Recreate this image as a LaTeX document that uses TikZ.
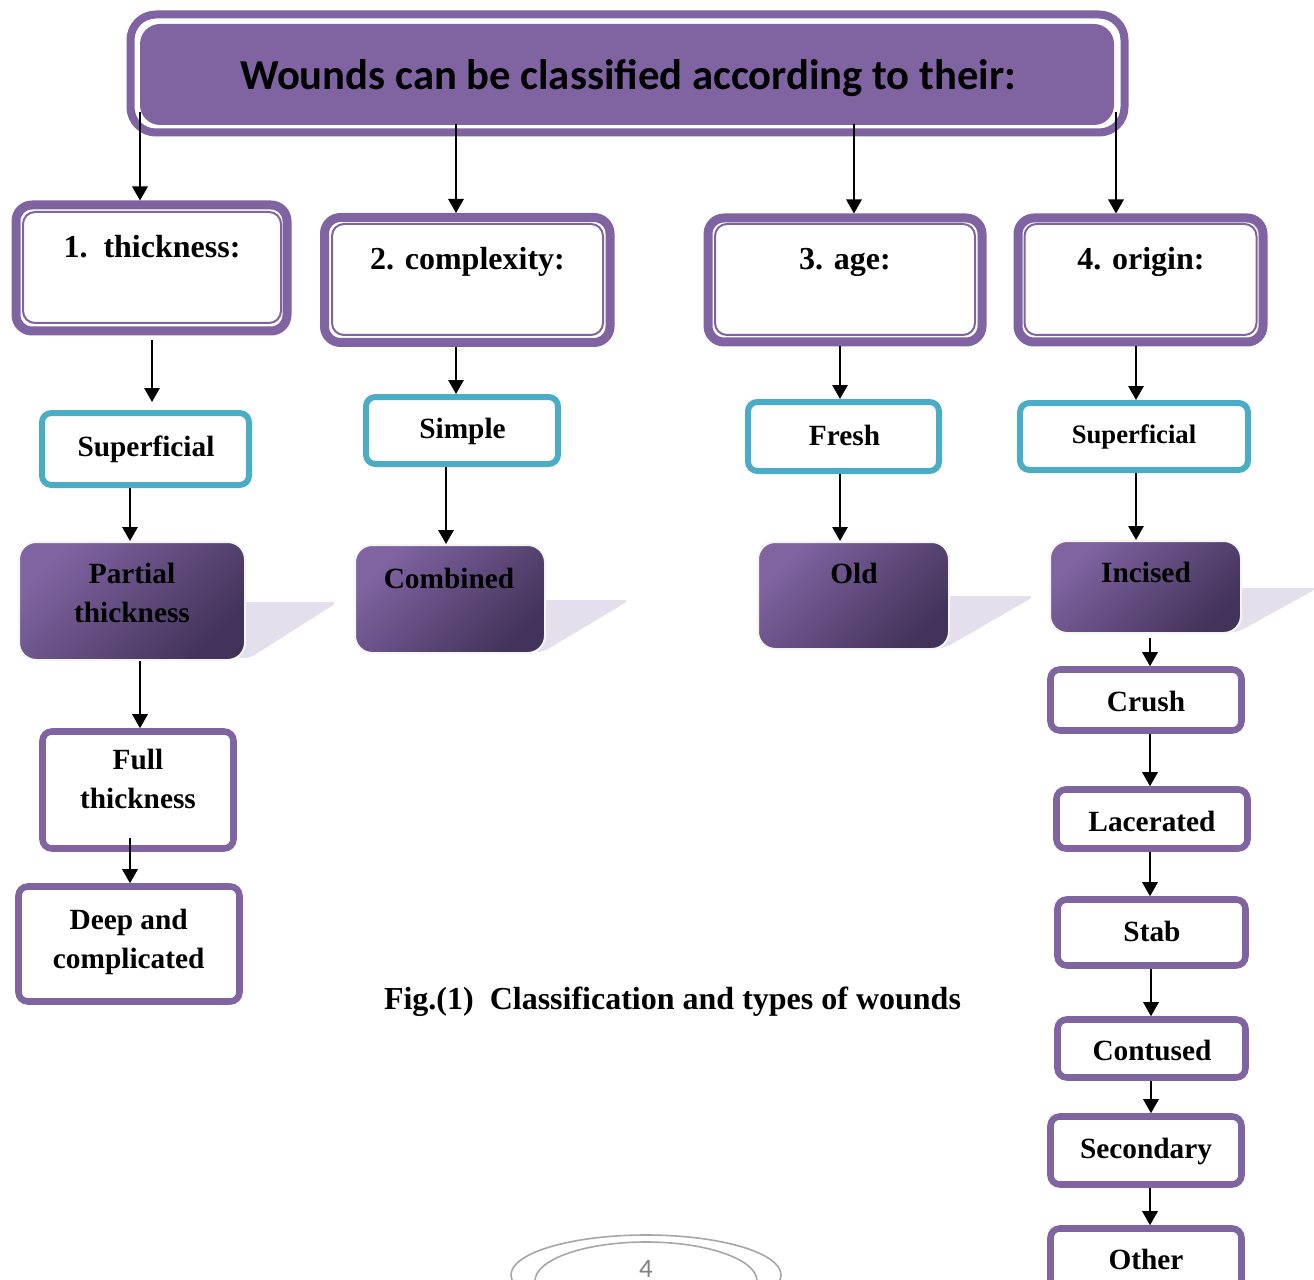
\documentclass[tikz,border=0pt]{standalone}
\usepackage{fontspec}
\setmainfont{Liberation Serif}
\newfontfamily\calibrifont{Carlito}
\usetikzlibrary{arrows.meta}
\definecolor{purp}{HTML}{8064A2}
\definecolor{blu}{HTML}{4BACC6}
\definecolor{gl}{HTML}{8064A2}
\definecolor{gd}{HTML}{43335A}
\definecolor{shad}{HTML}{E4DFEC}
\definecolor{pgray}{HTML}{A6A6A6}
\begin{document}
\begin{tikzpicture}[x=0.75pt,y=-0.75pt,
  sz/.style 2 args={minimum width=#1*0.75pt, minimum height=#2*0.75pt, inner sep=0pt},
  catbox/.style={draw=purp, line width=6.75pt, rounded corners=12pt, fill=white},
  catin/.style={draw=purp, line width=1.5pt, rounded corners=9pt},
  bluebox/.style={draw=blu, line width=4.5pt, rounded corners=7pt, fill=white},
  pbox/.style={draw=purp, line width=4.9pt, rounded corners=7pt, fill=white},
  gbox/.style={draw=white!92!gray, line width=1.5pt, rounded corners=13pt, top color=gl, bottom color=gd, shading angle=45},
  shadowpoly/.style={fill=shad, rounded corners=5pt},
  lbl/.style={font=\bfseries\fontsize{22}{29}\selectfont, anchor=base, align=center, inner sep=0pt},
  cattxt/.style={font=\bfseries\fontsize{24}{29}\selectfont, anchor=base, inner sep=0pt},
  arr/.style={line width=1.5pt, -{Triangle[length=10.5pt,width=11.5pt]}},
]
\useasboundingbox (0,0) rectangle (1314,1280);
\clip (0,0) rectangle (1314,1280);

% title box
\node[sz={994}{118}, draw=purp, line width=6pt, rounded corners=19pt] (topring) at (627.5,73.5) {};
\node[sz={974}{101}, fill=purp, rounded corners=15pt] (top) at (627,74.5) {};
\node[font=\calibrifont\bfseries\fontsize{32}{38}\selectfont, anchor=base, inner sep=0pt] (title) at (628,90) {Wounds can be classified according to their:};

% category boxes
\node[catbox, sz={271}{126}] (c1) at (151.5,268) {};
\node[catin, sz={258}{111}] (c1i) at (152,267.5) {};
\node[cattxt] (c1t) at (152,258) {1.\ \ thickness:};
\node[catbox, sz={285.5}{125}] (c2) at (467.25,280) {};
\node[catin, sz={271}{111}] (c2i) at (467.5,279.5) {};
\node[cattxt] (c2t) at (467.5,270) {2. complexity:};
\node[catbox, sz={274}{124}] (c3) at (845,280) {};
\node[catin, sz={260}{111}] (c3i) at (845,279.5) {};
\node[cattxt] (c3t) at (845,270) {3. age:};
\node[catbox, sz={245}{124}] (c4) at (1140.5,280) {};
\node[catin, sz={232}{111}] (c4i) at (1140.5,279.5) {};
\node[cattxt] (c4t) at (1141,270) {4. origin:};

% blue boxes
\node[bluebox, sz={207}{72}] (s1) at (145.5,449) {};
\node[lbl] (s1t) at (146,456) {Superficial};
\node[bluebox, sz={192}{67}] (simple) at (462,430.5) {};
\node[lbl] (simplet) at (462.5,438) {Simple};
\node[bluebox, sz={191}{69}] (fresh) at (843.5,436.5) {};
\node[lbl] (fresht) at (844.5,445) {Fresh};
\node[bluebox, sz={228}{67}] (sup4) at (1134,436.5) {};
\node[lbl, font=\bfseries\fontsize{20}{24}\selectfont] (sup4t) at (1134,443) {Superficial};

% shadows of gradient boxes
\fill[shadowpoly] (235,602) -- (338,602) -- (250,658) -- (235,658) -- cycle;
\fill[shadowpoly] (535,600) -- (630,600) -- (543,652) -- (535,652) -- cycle;
\fill[shadowpoly] (935,596) -- (1035,596) -- (945,648) -- (935,648) -- cycle;
\fill[shadowpoly] (1230,588) -- (1318,588) -- (1238,632) -- (1230,632) -- cycle;

% gradient boxes
\node[gbox, sz={226}{118}] (partial) at (132,601) {};
\node[lbl] (partialt) at (132,622) {Partial\\thickness};
\node[gbox, sz={190}{108}] (combined) at (450,599) {};
\node[lbl] (combinedt) at (449,588) {Combined};
\node[gbox, sz={191}{107}] (old) at (853.5,595.5) {};
\node[lbl] (oldt) at (854,583) {Old};
\node[gbox, sz={191}{92}] (incised) at (1145.5,587) {};
\node[lbl] (incisedt) at (1146,582) {Incised};

% purple boxes
\node[pbox, sz={191}{117}] (full) at (138,790) {};
\node[lbl] (fullt) at (138,808) {Full\\thickness};
\node[pbox, sz={221}{115}] (deep) at (129,944) {};
\node[lbl] (deept) at (128.7,968) {Deep and\\complicated};
\node[pbox, sz={191}{61}] (crush) at (1146,700) {};
\node[lbl] (crusht) at (1146,711) {Crush};
\node[pbox, sz={191}{59}] (lac) at (1152,819) {};
\node[lbl] (lact) at (1152,831) {Lacerated};
\node[pbox, sz={188}{66}] (stab) at (1151.5,932.5) {};
\node[lbl] (stabt) at (1152,941) {Stab};
\node[pbox, sz={188}{58}] (contused) at (1151.5,1048.5) {};
\node[lbl] (contusedt) at (1152,1060) {Contused};
\node[pbox, sz={191}{68}] (secondary) at (1146,1150.5) {};
\node[lbl] (secondaryt) at (1146,1158) {Secondary};
\node[pbox, sz={191}{62}] (other) at (1146,1259.5) {};
\node[lbl] (othert) at (1146,1269) {Other};

% caption
\node[font=\bfseries\fontsize{24}{29}\selectfont, anchor=base, inner sep=0pt] (caption) at (672.5,1009) {Fig.(1)\ \ Classification and types of wounds};

% page number
\draw[pgray, line width=1.2pt] (646,1275) ellipse [x radius=135, y radius=40];
\draw[pgray, line width=1.2pt] (646,1281) ellipse [x radius=111, y radius=39];
\node[font=\calibrifont\fontsize{20}{24}\selectfont, text=gray, anchor=base, inner sep=0pt] (pnum) at (646,1277) {4};

% connectors
\draw[arr, shorten <=-18.4pt] (topring.south -| 140,0) -- (c1.north -| 140,0);
\draw[arr, shorten <=-9.4pt] (topring.south -| 456,0) -- (c2.north -| 456,0);
\draw[arr, shorten <=-9.4pt] (topring.south -| 854,0) -- (c3.north -| 854,0);
\draw[arr, shorten <=-18.4pt] (topring.south -| 1116,0) -- (c4.north -| 1116,0);
\draw[arr, shorten <=3.75pt, shorten >=6pt] (c1.south -| 152,0) -- (s1.north -| 152,0);
\draw[arr] (c2.south -| 456,0) -- (simple.north -| 456,0);
\draw[arr] (c3.south -| 840,0) -- (fresh.north -| 840,0);
\draw[arr] (c4.south -| 1136,0) -- (sup4.north -| 1136,0);
\draw[arr] (s1.south -| 130,0) -- (partial.north -| 130,0);
\draw[arr] (simple.south -| 446,0) -- (combined.north -| 446,0);
\draw[arr] (fresh.south -| 840,0) -- (old.north -| 840,0);
\draw[arr] (sup4.south -| 1136,0) -- (incised.north -| 1136,0);
\draw[arr] (partial.south -| 140,0) -- (full.north -| 140,0);
\draw[arr, shorten <=-10.5pt] (full.south -| 130,0) -- (deep.north -| 130,0);
\draw[arr, shorten <=3pt] (incised.south -| 1150,0) -- (crush.north -| 1150,0);
\draw[arr] (crush.south -| 1150,0) -- (lac.north -| 1150,0);
\draw[arr] (lac.south -| 1150,0) -- (stab.north -| 1150,0);
\draw[arr] (stab.south -| 1151,0) -- (contused.north -| 1151,0);
\draw[arr] (contused.south -| 1151,0) -- (secondary.north -| 1151,0);
\draw[arr] (secondary.south -| 1150,0) -- (other.north -| 1150,0);
\end{tikzpicture}
\end{document}
